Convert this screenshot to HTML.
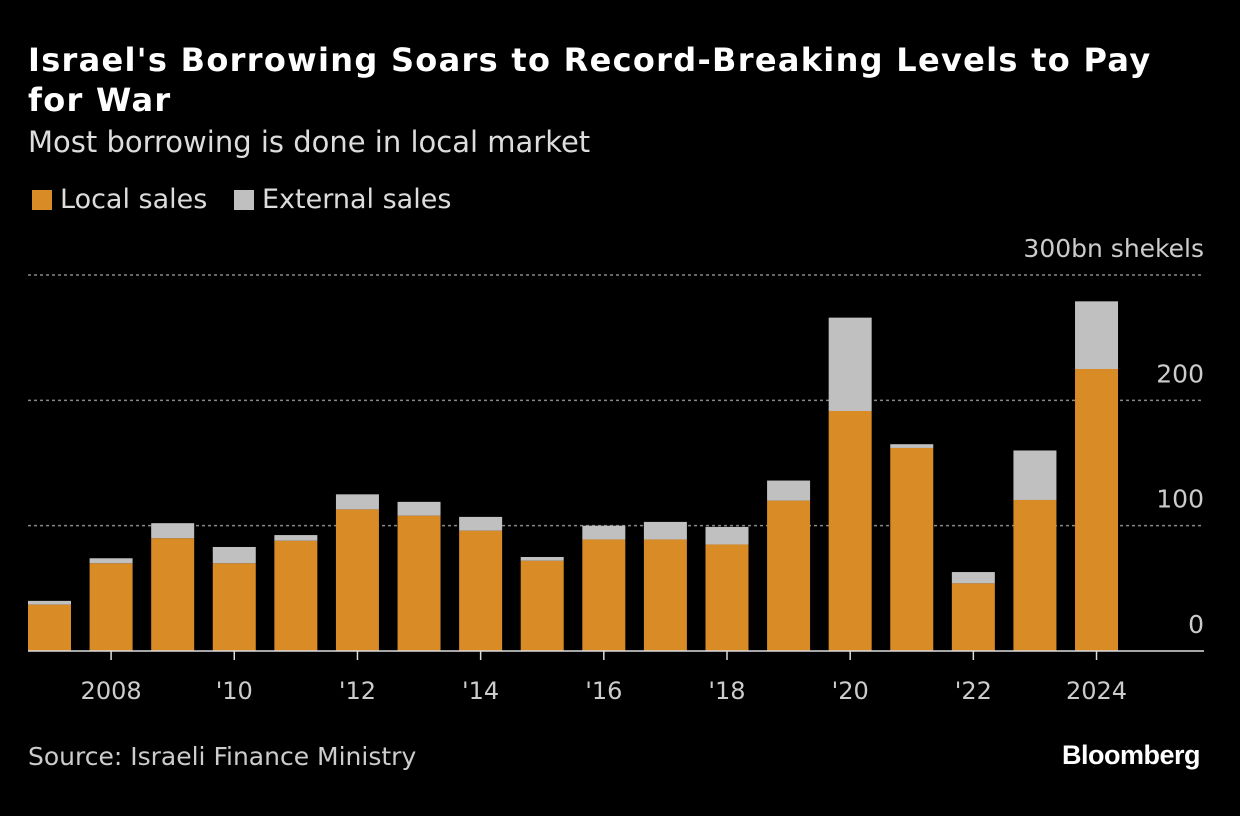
<!DOCTYPE html>
<html><head><meta charset="utf-8"><style>
body{margin:0;background:#000;width:1240px;height:816px;overflow:hidden;font-family:"DejaVu Sans","Liberation Sans",sans-serif;color:#fff}
.t{position:absolute;left:28px;top:40px;font-size:32px;font-weight:bold;line-height:40px;width:1200px;white-space:nowrap;letter-spacing:1.3px}
.s{position:absolute;left:28px;top:125px;font-size:29px;color:#ddd}
.lg{position:absolute;top:184px;font-size:27px;color:#ddd}
.sw{display:inline-block;width:20px;height:20px;vertical-align:-2px;margin-right:8px}
.src{position:absolute;left:28px;top:742px;font-size:25px;color:#ccc}
.bb{position:absolute;right:40px;top:740px;font-size:27px;font-weight:bold;letter-spacing:-0.5px;font-family:"Liberation Sans",sans-serif}
</style></head><body>
<div class="t">Israel's Borrowing Soars to Record-Breaking Levels to Pay<br>for War</div>
<div class="s">Most borrowing is done in local market</div>
<div class="lg" style="left:32px"><span class="sw" style="background:#d98b25"></span>Local sales</div>
<div class="lg" style="left:234px"><span class="sw" style="background:#c0c0c0"></span>External sales</div>
<svg id="c" width="1240" height="816" style="position:absolute;left:0;top:0"></svg>
<div class="src">Source: Israeli Finance Ministry</div>
<div class="bb">Bloomberg</div>
<script>
const years=[2007,2008,2009,2010,2011,2012,2013,2014,2015,2016,2017,2018,2019,2020,2021,2022,2023,2024];
const local=[37,70,90,70,88,113,108,96,72,89,89,85,120,191.5,162,54,120.5,225];
const external=[3,4,12,13,4.5,12,11,11,3,11,14,14,16,74.5,3,9,39.5,54];
const yTicks=[0,100,200,300];
const yTickLabels=["0","100","200","300bn shekels"];
const xLabelYears=[2008,2010,2012,2014,2016,2018,2020,2022,2024];
const xLabels=["2008","'10","'12","'14","'16","'18","'20","'22","2024"];
const svg=document.getElementById('c');const NS="http://www.w3.org/2000/svg";
const y=v=>651-v*1.2533;
const x=yr=>49.5+(yr-2007)*61.59;
const bw=43;
function mk(t,a){const e=document.createElementNS(NS,t);for(const k in a)e.setAttribute(k,a[k]);svg.appendChild(e);return e;}
yTicks.forEach((v,i)=>{
 if(v>0){const l=mk('line',{x1:28,x2:1204,y1:y(v),y2:y(v),stroke:'#888','stroke-width':1.5,'stroke-dasharray':'3,3'});
 }
 const t=mk('text',{x:1204,y:y(v)-18,'text-anchor':'end','font-size':25,fill:'#ccc'});
 t.textContent=yTickLabels[i];
 
});
years.forEach((yr,i)=>{
 const l=mk('rect',{x:x(yr)-bw/2,y:y(local[i]),width:bw,height:y(0)-y(local[i]),fill:'#d98b25'});
 
 const e=mk('rect',{x:x(yr)-bw/2,y:y(local[i]+external[i]),width:bw,height:y(local[i])-y(local[i]+external[i]),fill:'#c0c0c0'});
 
});
const base=mk('line',{x1:28,x2:1204,y1:651,y2:651,stroke:'#ddd','stroke-width':1.5});

xLabelYears.forEach((yr,i)=>{
 const tk=mk('line',{x1:x(yr),x2:x(yr),y1:651,y2:660,stroke:'#ddd','stroke-width':1.5});
 
 const t=mk('text',{x:x(yr),y:699,'text-anchor':'middle','font-size':24,fill:'#ccc'});
 t.textContent=xLabels[i];
 
});
</script>
</body></html>
